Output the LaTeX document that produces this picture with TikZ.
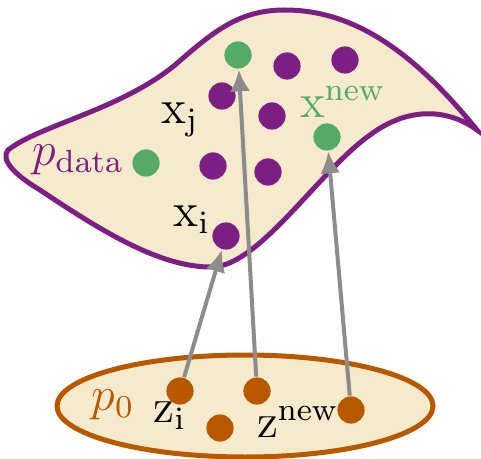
\documentclass[tikz,border=0pt]{standalone}
\usetikzlibrary{arrows.meta}
\definecolor{beige}{RGB}{246,234,204}
\definecolor{dpurple}{RGB}{124,30,132}
\definecolor{dgreen}{RGB}{84,170,104}
\definecolor{dorange}{RGB}{186,88,0}
\definecolor{agray}{RGB}{140,140,140}
\tikzset{
  dot/.style={circle,inner sep=0pt,minimum size=6.8pt,fill=#1},
  arr/.style={draw=agray,line width=1pt,-{Latex[length=5.5pt,width=5pt]}},
  lbl/.style={inner sep=0pt,font=\fontsize{11.5}{13}\selectfont}
}
\begin{document}
\begin{tikzpicture}[x=0.25pt,y=-0.25pt]
\useasboundingbox (0,0) rectangle (481,459);
% data manifold
\draw[draw=dpurple,fill=beige,line width=1.25pt]
 (8,150) .. controls (40,125) and (120,110) .. (175,65)
 .. controls (215,30) and (240,10) .. (285,10)
 .. controls (360,10) and (420,60) .. (477,130)
 .. controls (450,110) and (410,105) .. (370,135)
 .. controls (320,170) and (260,265) .. (213,267)
 .. controls (160,268) and (100,230) .. (40,190)
 .. controls (15,175) and (0,160) .. (8,150) -- cycle;
% prior
\draw[draw=dorange,fill=beige,line width=1.25pt] (245,406) ellipse [x radius=188, y radius=51];
% data dots
\node[dot=dgreen] (g1) at (238,55) {};
\node[dot=dpurple] (d1) at (287,66) {};
\node[dot=dpurple] (d2) at (345,60) {};
\node[dot=dpurple] (xj) at (222,96) {};
\node[dot=dpurple] (d3) at (272,116) {};
\node[dot=dgreen] (g2) at (327,137) {};
\node[dot=dgreen] (g3) at (146,163) {};
\node[dot=dpurple] (d4) at (213,166) {};
\node[dot=dpurple] (d5) at (268,172) {};
\node[dot=dpurple] (xi) at (226,236) {};
% prior dots
\node[dot=dorange] (zi) at (180,391) {};
\node[dot=dorange] (z2) at (257,391) {};
\node[dot=dorange] (z3) at (220,428) {};
\node[dot=dorange] (zn) at (351,410) {};
% labels
\node[lbl] (lxj) at (180,120) {$\mathrm{x}_{\mathrm{j}}$};
\node[lbl] (lxi) at (192,220) {$\mathrm{x}_{\mathrm{i}}$};
\node[lbl,text=dgreen] (lxn) at (343,102) {$\mathrm{x}^{\mathrm{new}}$};
\node[lbl,text=dpurple] (lpd) at (78,160) {$p_{\mathrm{data}}$};
\node[lbl,text=dorange] (lp0) at (113,405) {$p_0$};
\node[lbl] (lzi) at (170,416) {$\mathrm{z}_{\mathrm{i}}$};
\node[lbl] (lzn) at (298,422) {$\mathrm{z}^{\mathrm{new}}$};
% arrows
\draw[arr] (zi) -- (xi);
\draw[arr] (z2) -- (g1);
\draw[arr] (zn) -- (g2);
\end{tikzpicture}
\end{document}
